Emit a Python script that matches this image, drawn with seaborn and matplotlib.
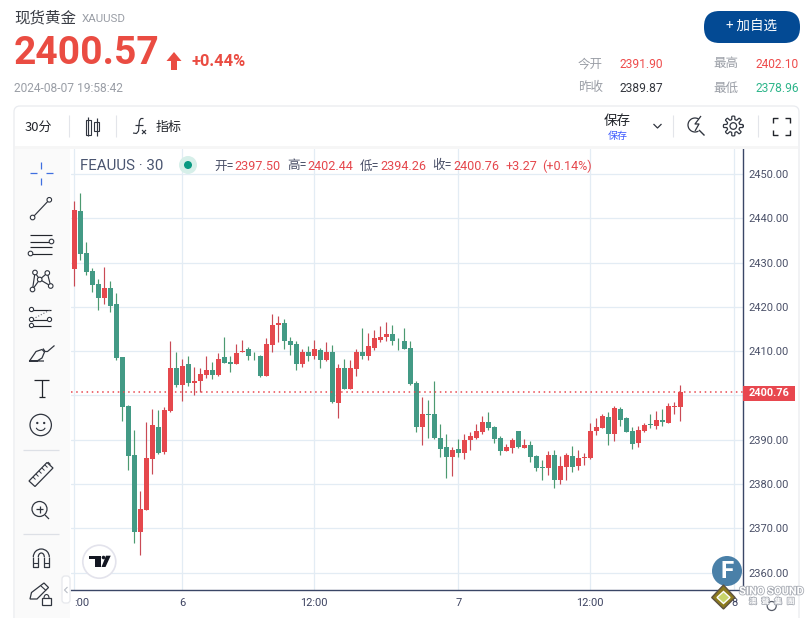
import numpy as np
import pandas as pd
import seaborn as sns
import matplotlib
matplotlib.use("Agg")
import matplotlib.pyplot as plt
import matplotlib.patheffects as pe
from matplotlib.patches import Circle, FancyBboxPatch, Rectangle, Polygon, Arc

opens = [2428.6,2441.7,2432.1,2428.1,2425.1,2422.0,2424.2,2420.6,2408.6,2397.7,
         2386.6,2369.2,2374.1,2385.7,2392.9,2387.2,2396.5,2406.3,2402.4,2407.0,
         2402.7,2403.3,2404.7,2405.8,2404.7,2408.6,2407.6,2407.0,2409.7,2410.4,
         2409.0,2408.8,2404.5,2411.5,2415.8,2416.3,2412.4,2411.7,2407.2,2409.7,
         2408.8,2410.2,2407.9,2409.9,2398.4,2406.3,2401.4,2405.9,2409.9,2408.8,
         2410.8,2412.6,2413.1,2413.8,2412.4,2412.4,2410.8,2402.7,2392.8,2395.7,
         2395.7,2390.5,2388.3,2386.0,2387.8,2387.1,2389.9,2390.5,2391.7,2394.1,
         2392.8,2390.4,2387.5,2388.2,2392.0,2388.2,2388.8,2386.4,2383.9,2383.7,
         2386.6,2381.0,2383.9,2386.4,2384.1,2385.9,2385.9,2392.0,2392.7,2395.1,
         2391.3,2396.9,2394.9,2392.0,2389.3,2392.0,2393.6,2393.1,2394.5,2393.8,
         2397.5,2397.5]
closes = [2441.9,2432.0,2427.9,2425.0,2422.0,2424.2,2420.3,2408.4,2397.4,2386.3,
          2369.2,2374.3,2385.9,2393.4,2387.0,2396.8,2406.3,2402.4,2406.7,2402.7,
          2403.3,2404.9,2405.8,2404.7,2408.3,2407.4,2407.0,2409.5,2410.1,2408.8,
          2408.9,2404.5,2411.7,2415.8,2416.3,2412.2,2411.5,2407.2,2409.7,2408.8,
          2410.4,2407.9,2409.9,2398.6,2406.3,2401.4,2406.1,2409.9,2409.0,2411.1,
          2412.9,2413.3,2413.8,2412.2,2412.3,2410.6,2402.5,2392.8,2395.9,2395.5,
          2390.3,2388.0,2386.0,2387.6,2387.1,2389.9,2390.8,2391.9,2394.1,2392.6,
          2390.1,2387.5,2388.4,2390.0,2388.4,2388.8,2386.1,2383.7,2383.7,2386.6,
          2381.0,2384.1,2386.6,2383.9,2385.9,2386.1,2392.0,2392.9,2395.4,2391.3,
          2397.2,2394.5,2391.8,2389.1,2392.2,2393.3,2393.3,2394.5,2394.0,2397.6,
          2397.6,2400.76]
highs = [2443.9,2445.7,2434.6,2428.7,2426.2,2429.0,2425.8,2423.1,2408.6,2397.9,
         2392.2,2378.4,2394.0,2397.0,2396.8,2397.4,2412.2,2409.7,2408.3,2408.8,
         2406.5,2406.3,2408.8,2407.6,2409.5,2413.1,2408.8,2411.7,2412.6,2411.0,
         2409.9,2409.2,2412.9,2418.3,2417.9,2417.2,2413.3,2412.4,2410.6,2411.1,
         2412.6,2410.8,2412.0,2411.5,2407.0,2408.3,2407.9,2410.6,2415.3,2414.0,
         2414.7,2415.6,2416.5,2415.8,2412.9,2415.3,2412.2,2403.2,2399.6,2398.9,
         2403.2,2393.5,2391.2,2388.3,2390.1,2391.4,2391.7,2393.5,2395.3,2396.2,
         2393.0,2390.9,2389.1,2390.4,2392.0,2390.2,2389.7,2386.6,2385.5,2387.5,
         2387.7,2386.4,2387.0,2388.6,2387.7,2387.0,2393.8,2394.9,2395.8,2396.3,
         2397.6,2397.4,2395.1,2392.9,2393.1,2393.8,2395.8,2396.5,2396.9,2398.3,
         2398.5,2402.44]
lows = [2424.7,2430.6,2427.2,2423.4,2419.3,2420.6,2418.8,2408.1,2394.3,2383.2,
        2366.6,2363.9,2374.1,2382.3,2386.8,2386.8,2396.3,2401.8,2398.8,2402.2,
        2400.2,2400.8,2404.0,2403.8,2404.5,2407.4,2405.4,2407.0,2409.7,2407.9,
        2408.1,2404.2,2404.5,2409.7,2412.0,2410.6,2409.2,2405.8,2406.5,2407.7,
        2408.3,2406.3,2407.7,2398.2,2394.8,2401.4,2401.4,2404.3,2408.3,2408.1,
        2410.2,2412.0,2412.2,2411.5,2410.2,2410.4,2402.3,2391.7,2388.7,2390.3,
        2390.1,2386.2,2381.3,2381.7,2386.2,2385.6,2387.6,2390.1,2391.2,2392.3,
        2389.2,2386.6,2387.5,2387.0,2388.2,2388.2,2385.0,2383.0,2381.0,2382.1,
        2379.2,2380.1,2381.0,2382.8,2383.2,2384.3,2385.7,2391.1,2392.7,2388.8,
        2389.7,2393.1,2391.8,2387.9,2388.4,2391.8,2392.7,2392.4,2393.1,2393.8,
        2395.8,2394.26]
price_ticks = [2360, 2370, 2380, 2390, 2400, 2410, 2420, 2430, 2440, 2450]
time_tick_bars = [0, 18, 40, 64, 86, 110]
time_tick_labels = [":00", "6", "12:00", "7", "12:00", "8"]
last_price = 2400.76

UP = "#E5484D"
DOWN = "#439A85"
UP_WICK = "#C94A55"
DOWN_WICK = "#4C9A70"
GRID = "#E3ECF4"
AXIS = "#3A4666"
FONT = ["Noto Sans CJK SC", "DejaVu Sans"]

sns.set_theme(style="white")
plt.rcParams["font.family"] = FONT
plt.rcParams["axes.unicode_minus"] = False

df = pd.DataFrame({"bar": np.arange(len(opens)), "open": opens, "close": closes,
                   "high": highs, "low": lows})
df["base"] = df[["open", "close"]].min(axis=1)
df["size"] = (df["close"] - df["open"]).abs()
df["up"] = df["close"] >= df["open"]

fig = plt.figure(figsize=(8.1, 6.18), dpi=100, facecolor="white")
L, R, T, B = 71, 743, 149, 590
ax = fig.add_axes([L / 810, 1 - B / 618, (R - L) / 810, (B - T) / 618])

for up, c, wc in [(True, UP, UP_WICK), (False, DOWN, DOWN_WICK)]:
    s = df[df["up"] == up]
    ax.vlines(s["bar"], s["low"], s["high"], color=wc, lw=0.85, zorder=3)
    sns.barplot(data=s, x="bar", y="size", bottom=s["base"].to_numpy(), native_scale=True,
                color=c, saturation=1, width=0.82, errorbar=None, linewidth=0, ax=ax, zorder=4)

ax.axhline(last_price, color="#E8474F", lw=1.1, ls=(0, (1, 2.4)), zorder=5)
ax.set_xlim(-0.55, 111.45)
ax.set_ylim(2356.07, 2455.65)
ax.set_xlabel("")
ax.set_ylabel("")
ax.set_yticks(price_ticks)
ax.set_yticklabels(["" if abs(p - last_price) < 3 else f"{p:.2f}" for p in price_ticks],
                   fontsize=7.9, color="#4A5068", family="Roboto")
ax.yaxis.tick_right()
ax.set_xticks(time_tick_bars)
ax.set_xticklabels(time_tick_labels, fontsize=7.9, color="#3C4260", family="Roboto")
ax.get_xticklabels()[0].set_ha("left")
ax.tick_params(axis="both", length=0)
ax.tick_params(axis="y", pad=4)
ax.tick_params(axis="x", pad=6)
ax.grid(True, color=GRID, lw=0.9, zorder=0)
ax.set_axisbelow(True)
for side in ["top", "left"]:
    ax.spines[side].set_visible(False)
for side in ["right", "bottom"]:
    ax.spines[side].set_color(AXIS)
    ax.spines[side].set_linewidth(1.0)

ui = fig.add_axes([0, 0, 1, 1], zorder=5)
ui.set_xlim(0, 810)
ui.set_ylim(618, 0)
ui.axis("off")
ui.patch.set_alpha(0)


def txt(x, y, s, px, color, ha="left", va="center", weight="normal", family=None, **kw):
    return ui.text(x, y, s, fontsize=px * 0.72, color=color, ha=ha, va=va, weight=weight,
                   family=family or FONT, **kw)


def ln(xs, ys, color="#30353F", lw=0.85, **kw):
    ui.plot(xs, ys, color=color, lw=lw, solid_capstyle="butt", **kw)


def dot(x, y, r=2.3, ec="#30353F", fc="white", lw=0.8):
    ui.add_patch(Circle((x, y), r, fc=fc, ec=ec, lw=lw, zorder=6))


RED = "#EA4C42"
GREY = "#9A9EA6"
# header
txt(14, 18, "现货黄金", 15.5, "#3A3D45")
txt(82, 18.5, "XAUUSD", 11.5, GREY, family="Roboto")
txt(13.5, 53, "2400.57", 39, RED, weight="bold", family="Roboto")
ui.add_patch(Polygon([(174, 52), (181.5, 61), (177, 61), (177, 70), (171, 70), (171, 61), (166.5, 61)], fc=RED, ec="none"))
txt(192, 62, "+0.44%", 16.5, RED, weight="bold", family="Roboto")
txt(14, 88, "2024-08-07 19:58:42", 12, GREY, family="Roboto")
ui.add_patch(FancyBboxPatch((704, 11), 96, 32, boxstyle="round,pad=0,rounding_size=15.5",
                            fc="#034A94", ec="none", lw=0))
txt(752, 27, "+ 加自选", 13.5, "white", ha="center")
stats = [(578, 620, 64, "今开", "2391.90", "#EE4B4B"), (713, 755, 64, "最高", "2402.10", "#EE4B4B"),
         (578, 620, 88, "昨收", "2389.87", "#33363D"), (713, 755, 88, "最低", "2378.96", "#2DB58A")]
for x1, x2, y, a, b, c in stats:
    txt(x1, y, a, 12.5, GREY)
    txt(x2, y, b, 12, c, family="Roboto")

# toolbar card (runs past the bottom edge of the picture)
ui.add_patch(FancyBboxPatch((14, 106), 785, 540, boxstyle="round,pad=0,rounding_size=6", fc="none", ec="#E9EBEF", lw=0.9, zorder=0.5))
ui.add_patch(Rectangle((15, 145.5), 783, 3.5, fc="#F6F6F6", ec="none"))
ui.add_patch(Rectangle((15, 149), 55, 469, fc="#FAFAFA", ec="none"))
for x in [69, 116, 672.7, 757.7]:
    ln([x, x], [115, 137], color="#E3E5EA", lw=0.8)
txt(25, 127, "30分", 13, "#22252B")
txt(156, 127, "指标", 13, "#22252B")
# fx icon
ln([143.5, 141, 139.5, 139, 138.5, 136.5, 133], [118.5, 118.5, 120.5, 125, 131, 133.5, 133], lw=0.85)
ln([135, 143], [124.5, 124.5], lw=0.85)
ln([142, 146], [130, 134], lw=0.85); ln([146, 142], [130, 134], lw=0.85)
# candle icon
ln([88.2, 88.2], [117, 136]); ln([96.5, 96.5], [118, 136])
ui.add_patch(Rectangle((85.7, 119.5), 5, 15, fc="white", ec="#30353F", lw=0.8))
ui.add_patch(Rectangle((94, 122), 5, 9, fc="white", ec="#30353F", lw=0.8))
txt(604, 121, "保存", 13.5, "#22252B")
txt(608, 136, "保存", 10, "#3D5AFE")
ln([653.5, 657.5, 661.5], [124, 128, 124], lw=0.9)
# lightning magnifier
ui.add_patch(Arc((695, 125), 14, 14, theta1=60, theta2=300, color="#30353F", lw=0.9))
ln([699, 704.5], [130, 135.5], lw=1.0)
ln([701, 695, 699, 695], [116, 124, 124, 131], lw=0.9)
# gear
ang = np.linspace(0, 2 * np.pi, 81)
rad = 8.2 + 1.7 * np.tanh(4 * np.cos(8 * ang))
ui.plot(733.3 + rad * np.cos(ang), 126 + rad * np.sin(ang), color="#30353F", lw=0.9)
dot(733.3, 126, 3.3, fc="none", lw=0.9)
# fullscreen
for sx, sy in [(773, 117.5), (789.5, 117.5), (773, 134.5), (789.5, 134.5)]:
    dx = 5 if sx == 773 else -5
    dy = 5 if sy == 117.5 else -5
    ln([sx + dx, sx, sx], [sy, sy, sy + dy], color="#22252B", lw=1)

# left drawing tools
blue = "#3F6FE0"
ln([41.3, 41.3], [162, 169], color=blue, lw=0.9); ln([41.3, 41.3], [178, 185], color=blue, lw=0.9)
ln([30, 37], [173.3, 173.3], color=blue, lw=0.9); ln([46, 53], [173.3, 173.3], color=blue, lw=0.9)
ln([32.6, 49.3], [217.5, 199.8]); dot(32.6, 217.5); dot(49.3, 199.8)
for y in [235, 241.5, 247.3, 253.5]:
    ln([30, 52], [y, y], color="#22252B")
dot(51.5, 241.5); dot(30.5, 253.5)
pts = [(32.5, 289.5), (39.7, 279.5), (35, 272.5), (47.3, 273), (50.7, 286)]
for a, b in [(0, 1), (1, 2), (2, 0), (1, 3), (3, 4), (4, 1)]:
    ln([pts[a][0], pts[b][0]], [pts[a][1], pts[b][1]])
for p in pts:
    dot(*p)
for y in [309.5, 319.5, 325.5]:
    ln([30, 51], [y, y], color="#22252B")
ln([33, 50], [319, 310], ls=":", lw=0.8, color="#666B75")
for p in [(31.5, 309.5), (31.5, 319.5), (31.5, 325.5), (49.5, 319.5)]:
    dot(*p, r=2.1)
# brush
ln([29.5, 36, 42, 44.5, 42, 37, 29.5, 44], [361, 351.5, 349.5, 352, 358, 361, 361, 361], lw=0.9)
ln([43, 45, 47.5, 54.5], [348.5, 351.5, 351.5, 345.5], lw=0.9)
# T
ln([34, 49], [380, 380], color="#22252B", lw=0.9)
ln([41.7, 41.7], [380, 397], color="#22252B", lw=0.9)
ln([39, 44.5], [397, 397], color="#22252B", lw=0.9)
# smile
dot(40.7, 425, 10.7, fc="none", lw=0.9); dot(37.3, 423, 0.6, fc="#30353F"); dot(44.2, 423, 0.6, fc="#30353F")
ui.add_patch(Arc((40.7, 427), 9, 7, theta1=10, theta2=170, color="#30353F", lw=0.8))
ln([23, 59], [449.5, 449.5], color="#DDE0E6", lw=0.9)
ui.add_patch(Polygon([(29, 481), (35, 486.5), (53, 468), (47, 462.5)], fc="none", ec="#30353F", lw=0.9))
for k in range(6):
    ln([33 + k * 3, 35.5 + k * 3], [477 - k * 3, 479.5 - k * 3], lw=0.7)
dot(39.5, 509, 7.5, fc="none", lw=0.9)
ln([36, 43], [509, 509], lw=0.9); ln([39.5, 39.5], [505.5, 512.5], lw=0.9)
ln([45, 49], [515, 519], lw=0.9)
ln([23, 59], [534, 534], color="#DDE0E6", lw=0.9)
# magnet
ui.add_patch(Arc((41.3, 557), 16, 16, theta1=180, theta2=360, color="#30353F", lw=0.9))
ui.add_patch(Arc((41.3, 557), 6, 8, theta1=180, theta2=360, color="#30353F", lw=0.9))
for x0 in [33.3, 44.3]:
    ln([x0, x0, x0 + 5, x0 + 5], [557, 567, 567, 557], lw=0.9)
    ln([x0, x0 + 5], [563, 563], lw=0.8)
# pencil + lock
ui.add_patch(Polygon([(30, 599), (31.5, 592.5), (44, 583), (48.5, 587.5), (37, 599)], fc="none", ec="#30353F", lw=0.9))
ln([41, 46], [586, 590.5], lw=0.8)
ui.add_patch(Rectangle((42.3, 598), 8.4, 6.5, fc="white", ec="#30353F", lw=0.9))
ui.add_patch(Arc((46.5, 598), 5, 7, theta1=180, theta2=360, color="#30353F", lw=0.8))
ui.add_patch(FancyBboxPatch((62, 576), 8, 27, boxstyle="round,pad=0,rounding_size=3", fc="white", ec="#E6E8EC", lw=0.9))
ln([67.5, 64.5, 67.5], [587, 590, 593], color="#B9BDC6", lw=0.8)

# chart legend
txt(80.5, 165.5, "FEAUUS · 30", 15, "#4A5570", family="Roboto")
ui.add_patch(Circle((188, 165), 9, fc="#D6EFE9", ec="none"))
ui.add_patch(Circle((188, 165), 4, fc="#089981", ec="none"))
legend_bits = [(214, "开=", "#4A5068"), (234.5, "2397.50", UP), (287, "高=", "#4A5068"), (307.5, "2402.44", UP),
               (360, "低=", "#4A5068"), (380.5, "2394.26", UP), (432.5, "收=", "#4A5068"), (453.3, "2400.76", UP),
               (506, "+3.27", UP), (542, "(+0.14%)", UP)]
for x, s, c in legend_bits:
    txt(x, 166, s, 12.6, c, family=["Roboto", "Noto Sans CJK SC"])

# last price tag
ui.add_patch(Rectangle((743, 385.5), 52, 15, fc="#E8474F", ec="none"))
txt(769, 393, "2400.76", 11, "white", ha="center", weight="bold", family="Roboto")

# TV badge
ui.add_patch(Circle((99.3, 561.7), 16.5, fc="white", ec="#E3E3EC", lw=1.2))
ui.add_patch(Polygon([(89, 555.7), (101, 555.7), (101, 567), (94.5, 567), (94.5, 559), (89, 559)], fc="#131722", ec="none"))
ui.add_patch(Circle((103.5, 557.5), 1.8, fc="#131722", ec="none"))
ui.add_patch(Polygon([(106, 555.7), (110.7, 555.7), (105.5, 567), (101.5, 567)], fc="#131722", ec="none"))

# watermark
ui.add_patch(Circle((727, 571), 15, fc="#4A80A8", ec="none", zorder=7))
txt(727, 571, "F", 24, "white", ha="center", weight="bold", family="Roboto", zorder=8)
ui.add_patch(Polygon([(723.5, 585), (735, 597.5), (723.5, 609), (711.7, 597.5)], fc="#8C7A1E", ec="#5C5140", lw=1, zorder=7))
ui.add_patch(Polygon([(723.5, 591.5), (730, 597.5), (723.5, 603.5), (717, 597.5)], fc="#C9D56A", ec="white", lw=1, zorder=8))
ui.add_patch(Circle((771.7, 606), 4.5, fc="none", ec="#555A66", lw=0.9, zorder=7))
stroke = [pe.withStroke(linewidth=1.2, foreground="#A9ADB5")]
txt(771.5, 591.5, "SINO SOUND", 11, "white", ha="center", weight="bold", family="Roboto", zorder=8, path_effects=stroke)
txt(772, 601, "澳   聲   集   團", 7.5, "white", ha="center", weight="bold", zorder=8, path_effects=stroke)

fig.savefig("out.png", dpi=100)
